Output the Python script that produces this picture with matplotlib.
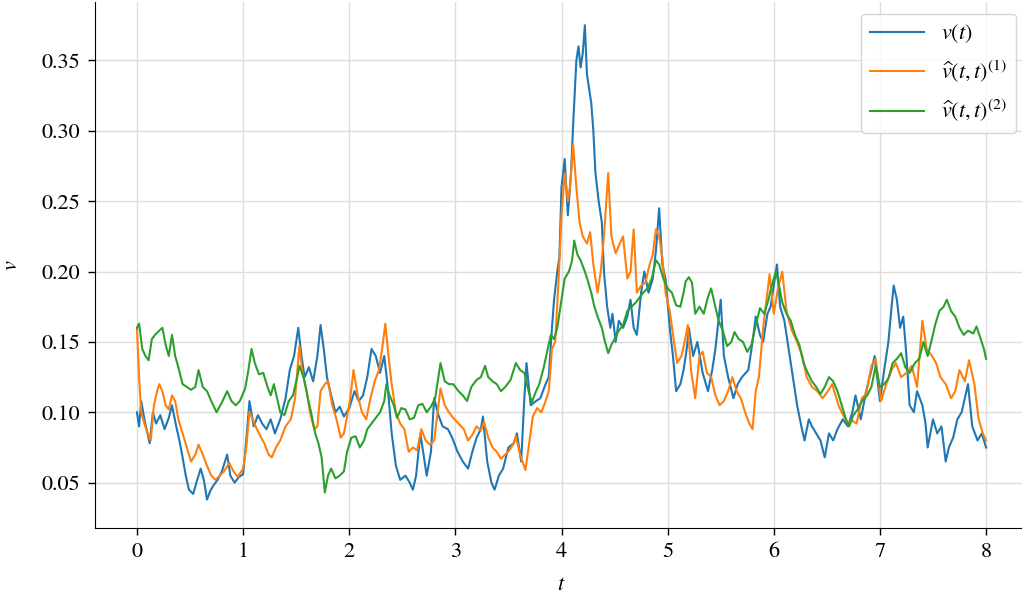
import numpy as np
import matplotlib
matplotlib.use('Agg')
import matplotlib.pyplot as plt

plt.rcParams['font.family'] = ['STIXGeneral', 'DejaVu Serif']
plt.rcParams['mathtext.fontset'] = 'stix'

# v(t)
t_v = [0.00, 0.02, 0.04, 0.07, 0.10, 0.12, 0.15, 0.18, 0.22, 0.26, 0.30, 0.33, 0.37, 0.40, 0.43, 0.46,
       0.49, 0.53, 0.56, 0.60, 0.63, 0.66, 0.69, 0.72, 0.76, 0.80, 0.85, 0.88, 0.92, 0.96, 1.00, 1.03,
       1.06, 1.10, 1.14, 1.18, 1.22, 1.26, 1.30, 1.35, 1.40, 1.44, 1.48, 1.52, 1.55, 1.58, 1.62, 1.66,
       1.70, 1.73, 1.76, 1.79, 1.83, 1.87, 1.91, 1.95, 2.00, 2.05, 2.09, 2.13, 2.17, 2.21, 2.25, 2.29,
       2.33, 2.36, 2.40, 2.44, 2.48, 2.53, 2.57, 2.60, 2.63, 2.67, 2.70, 2.73, 2.77, 2.80, 2.84, 2.88,
       2.93, 2.97, 3.02, 3.07, 3.12, 3.16, 3.20, 3.24, 3.26, 3.30, 3.34, 3.37, 3.41, 3.45, 3.50, 3.55,
       3.58, 3.62, 3.65, 3.67, 3.71, 3.76, 3.80, 3.85, 3.88, 3.91, 3.93, 3.96, 3.98, 4.00, 4.03, 4.06,
       4.09, 4.11, 4.14, 4.16, 4.18, 4.20, 4.22, 4.24, 4.26, 4.28, 4.30, 4.32, 4.35, 4.38, 4.40, 4.43,
       4.46, 4.48, 4.51, 4.54, 4.58, 4.62, 4.65, 4.68, 4.71, 4.75, 4.78, 4.82, 4.86, 4.89, 4.92, 4.95,
       4.98, 5.02, 5.05, 5.08, 5.12, 5.15, 5.18, 5.20, 5.24, 5.28, 5.33, 5.38, 5.42, 5.45, 5.50, 5.53,
       5.57, 5.62, 5.66, 5.70, 5.76, 5.80, 5.83, 5.87, 5.90, 5.94, 5.97, 6.03, 6.06, 6.10, 6.15, 6.19,
       6.22, 6.26, 6.29, 6.33, 6.36, 6.40, 6.44, 6.48, 6.52, 6.56, 6.60, 6.65, 6.70, 6.74, 6.77, 6.82,
       6.87, 6.92, 6.95, 7.00, 7.04, 7.08, 7.11, 7.13, 7.16, 7.19, 7.22, 7.25, 7.28, 7.32, 7.35, 7.40,
       7.43, 7.45, 7.50, 7.54, 7.58, 7.62, 7.65, 7.69, 7.73, 7.77, 7.80, 7.83, 7.87, 7.92, 7.96, 8.00]
v = [0.100, 0.090, 0.108, 0.095, 0.085, 0.078, 0.100, 0.092, 0.098, 0.088, 0.096, 0.105, 0.090, 0.080, 0.068, 0.055,
     0.045, 0.042, 0.050, 0.060, 0.052, 0.038, 0.044, 0.048, 0.052, 0.058, 0.070, 0.055, 0.050, 0.054, 0.056, 0.080,
     0.108, 0.090, 0.098, 0.092, 0.088, 0.095, 0.085, 0.095, 0.110, 0.130, 0.140, 0.160, 0.140, 0.125, 0.132, 0.122,
     0.140, 0.162, 0.145, 0.125, 0.112, 0.100, 0.104, 0.097, 0.103, 0.115, 0.108, 0.112, 0.125, 0.145, 0.140, 0.128,
     0.140, 0.120, 0.085, 0.062, 0.052, 0.055, 0.050, 0.045, 0.055, 0.085, 0.070, 0.055, 0.072, 0.110, 0.098, 0.090,
     0.088, 0.082, 0.072, 0.065, 0.060, 0.072, 0.082, 0.088, 0.097, 0.065, 0.050, 0.045, 0.055, 0.060, 0.075, 0.078,
     0.085, 0.065, 0.110, 0.135, 0.105, 0.108, 0.110, 0.120, 0.125, 0.160, 0.180, 0.200, 0.210, 0.260, 0.280, 0.240,
     0.270, 0.305, 0.350, 0.360, 0.345, 0.355, 0.375, 0.340, 0.330, 0.320, 0.300, 0.270, 0.250, 0.235, 0.200, 0.175,
     0.160, 0.170, 0.150, 0.165, 0.160, 0.168, 0.180, 0.160, 0.155, 0.185, 0.200, 0.185, 0.195, 0.215, 0.245, 0.205,
     0.195, 0.160, 0.140, 0.115, 0.120, 0.130, 0.145, 0.160, 0.140, 0.150, 0.128, 0.115, 0.130, 0.145, 0.180, 0.140,
     0.125, 0.110, 0.120, 0.125, 0.130, 0.150, 0.168, 0.155, 0.150, 0.170, 0.175, 0.205, 0.175, 0.165, 0.140, 0.120,
     0.105, 0.090, 0.080, 0.095, 0.090, 0.085, 0.080, 0.068, 0.085, 0.080, 0.088, 0.095, 0.090, 0.100, 0.112, 0.095,
     0.115, 0.130, 0.140, 0.108, 0.130, 0.150, 0.175, 0.190, 0.180, 0.160, 0.168, 0.140, 0.105, 0.100, 0.115, 0.105,
     0.092, 0.075, 0.095, 0.085, 0.090, 0.065, 0.075, 0.082, 0.095, 0.100, 0.110, 0.120, 0.090, 0.080, 0.085, 0.075]

# v_hat(t,t)^(1)
t_h1 = [0.00, 0.02, 0.04, 0.07, 0.10, 0.13, 0.16, 0.19, 0.21, 0.24, 0.27, 0.30, 0.33, 0.36, 0.39, 0.43,
        0.47, 0.51, 0.55, 0.58, 0.62, 0.66, 0.70, 0.74, 0.78, 0.82, 0.87, 0.91, 0.95, 1.00, 1.03, 1.06,
        1.09, 1.13, 1.17, 1.20, 1.24, 1.27, 1.31, 1.35, 1.40, 1.45, 1.49, 1.53, 1.56, 1.60, 1.63, 1.67,
        1.70, 1.73, 1.77, 1.80, 1.84, 1.88, 1.92, 1.95, 1.98, 2.01, 2.04, 2.08, 2.12, 2.16, 2.20, 2.24,
        2.28, 2.31, 2.34, 2.37, 2.40, 2.44, 2.48, 2.52, 2.56, 2.60, 2.64, 2.68, 2.72, 2.76, 2.80, 2.84,
        2.86, 2.90, 2.94, 2.98, 3.03, 3.08, 3.12, 3.16, 3.20, 3.24, 3.27, 3.31, 3.35, 3.39, 3.43, 3.47,
        3.51, 3.55, 3.57, 3.61, 3.66, 3.69, 3.73, 3.77, 3.81, 3.85, 3.88, 3.91, 3.94, 3.97, 4.00, 4.03,
        4.06, 4.08, 4.11, 4.14, 4.17, 4.20, 4.24, 4.27, 4.30, 4.34, 4.37, 4.40, 4.44, 4.47, 4.51, 4.55,
        4.58, 4.62, 4.65, 4.68, 4.71, 4.75, 4.79, 4.83, 4.86, 4.89, 4.92, 4.95, 4.98, 5.02, 5.06, 5.09,
        5.13, 5.16, 5.19, 5.22, 5.26, 5.30, 5.33, 5.37, 5.41, 5.45, 5.49, 5.53, 5.57, 5.61, 5.65, 5.69,
        5.73, 5.77, 5.80, 5.83, 5.86, 5.90, 5.94, 5.96, 6.00, 6.04, 6.08, 6.12, 6.17, 6.22, 6.27, 6.31,
        6.36, 6.41, 6.46, 6.51, 6.55, 6.61, 6.64, 6.69, 6.74, 6.78, 6.83, 6.87, 6.92, 6.96, 7.01, 7.06,
        7.11, 7.15, 7.20, 7.25, 7.30, 7.35, 7.40, 7.44, 7.49, 7.53, 7.57, 7.62, 7.67, 7.71, 7.75, 7.80,
        7.84, 7.89, 7.93, 7.97, 8.00]
h1 = [0.160, 0.125, 0.100, 0.092, 0.085, 0.080, 0.105, 0.115, 0.120, 0.115, 0.105, 0.102, 0.112, 0.108, 0.095, 0.085,
      0.075, 0.065, 0.070, 0.077, 0.070, 0.062, 0.055, 0.052, 0.055, 0.058, 0.064, 0.058, 0.054, 0.060, 0.075, 0.100,
      0.095, 0.088, 0.082, 0.078, 0.070, 0.068, 0.075, 0.080, 0.090, 0.095, 0.110, 0.147, 0.128, 0.115, 0.100, 0.088,
      0.090, 0.115, 0.120, 0.122, 0.105, 0.095, 0.082, 0.085, 0.097, 0.110, 0.130, 0.112, 0.100, 0.095, 0.110, 0.122,
      0.130, 0.145, 0.163, 0.140, 0.120, 0.100, 0.092, 0.088, 0.072, 0.075, 0.073, 0.088, 0.080, 0.077, 0.080, 0.105,
      0.117, 0.105, 0.100, 0.096, 0.092, 0.088, 0.080, 0.084, 0.090, 0.087, 0.093, 0.082, 0.075, 0.072, 0.067, 0.070,
      0.073, 0.078, 0.083, 0.070, 0.059, 0.075, 0.097, 0.103, 0.100, 0.108, 0.115, 0.145, 0.150, 0.190, 0.240, 0.270,
      0.250, 0.260, 0.290, 0.260, 0.235, 0.225, 0.220, 0.228, 0.205, 0.185, 0.200, 0.225, 0.270, 0.225, 0.213, 0.220,
      0.225, 0.195, 0.200, 0.230, 0.185, 0.190, 0.192, 0.205, 0.212, 0.230, 0.225, 0.210, 0.185, 0.172, 0.150, 0.135,
      0.140, 0.150, 0.162, 0.130, 0.110, 0.140, 0.143, 0.128, 0.125, 0.112, 0.105, 0.108, 0.115, 0.125, 0.115, 0.110,
      0.100, 0.092, 0.088, 0.115, 0.125, 0.160, 0.185, 0.198, 0.170, 0.188, 0.200, 0.172, 0.158, 0.150, 0.140, 0.125,
      0.118, 0.115, 0.110, 0.115, 0.120, 0.105, 0.100, 0.093, 0.094, 0.092, 0.110, 0.113, 0.133, 0.138, 0.108, 0.120,
      0.130, 0.135, 0.125, 0.128, 0.133, 0.118, 0.165, 0.145, 0.140, 0.135, 0.125, 0.120, 0.110, 0.115, 0.130, 0.122,
      0.137, 0.120, 0.095, 0.085, 0.080]

# v_hat(t,t)^(2)
t_h2 = [0.00, 0.02, 0.05, 0.08, 0.11, 0.14, 0.17, 0.21, 0.24, 0.27, 0.30, 0.33, 0.36, 0.39, 0.43, 0.47,
        0.51, 0.55, 0.58, 0.62, 0.66, 0.70, 0.75, 0.80, 0.85, 0.89, 0.93, 0.97, 1.02, 1.05, 1.08, 1.11,
        1.15, 1.19, 1.23, 1.26, 1.29, 1.32, 1.35, 1.39, 1.43, 1.47, 1.51, 1.53, 1.57, 1.61, 1.64, 1.68,
        1.71, 1.74, 1.77, 1.80, 1.83, 1.87, 1.91, 1.95, 1.98, 2.02, 2.06, 2.10, 2.14, 2.17, 2.21, 2.25,
        2.29, 2.33, 2.35, 2.38, 2.42, 2.45, 2.49, 2.53, 2.57, 2.61, 2.65, 2.69, 2.73, 2.77, 2.81, 2.86,
        2.90, 2.94, 2.98, 3.03, 3.07, 3.11, 3.15, 3.20, 3.24, 3.28, 3.31, 3.35, 3.39, 3.43, 3.47, 3.52,
        3.57, 3.61, 3.65, 3.69, 3.72, 3.76, 3.79, 3.83, 3.87, 3.90, 3.93, 3.96, 4.00, 4.03, 4.07, 4.10,
        4.12, 4.15, 4.18, 4.22, 4.25, 4.28, 4.31, 4.34, 4.38, 4.41, 4.44, 4.47, 4.50, 4.54, 4.58, 4.62,
        4.66, 4.70, 4.74, 4.77, 4.81, 4.85, 4.89, 4.92, 4.96, 5.00, 5.04, 5.08, 5.12, 5.15, 5.17, 5.20,
        5.23, 5.26, 5.30, 5.34, 5.38, 5.41, 5.45, 5.48, 5.52, 5.56, 5.60, 5.63, 5.67, 5.71, 5.75, 5.79,
        5.83, 5.87, 5.91, 5.95, 5.98, 6.02, 6.05, 6.08, 6.12, 6.16, 6.20, 6.24, 6.28, 6.32, 6.36, 6.40,
        6.44, 6.48, 6.52, 6.56, 6.60, 6.64, 6.68, 6.71, 6.75, 6.79, 6.83, 6.88, 6.92, 6.96, 7.00, 7.04,
        7.08, 7.12, 7.16, 7.20, 7.24, 7.28, 7.33, 7.37, 7.41, 7.45, 7.49, 7.52, 7.56, 7.60, 7.63, 7.67,
        7.71, 7.75, 7.79, 7.83, 7.88, 7.91, 7.95, 7.98, 8.00]
h2 = [0.160, 0.163, 0.145, 0.140, 0.137, 0.152, 0.155, 0.158, 0.160, 0.148, 0.140, 0.155, 0.140, 0.132, 0.120, 0.118,
      0.116, 0.118, 0.130, 0.118, 0.115, 0.108, 0.100, 0.107, 0.115, 0.108, 0.105, 0.108, 0.117, 0.130, 0.145, 0.135,
      0.127, 0.128, 0.118, 0.112, 0.120, 0.110, 0.100, 0.098, 0.108, 0.112, 0.125, 0.133, 0.125, 0.110, 0.100, 0.085,
      0.078, 0.068, 0.043, 0.055, 0.060, 0.053, 0.055, 0.058, 0.072, 0.082, 0.083, 0.075, 0.080, 0.088, 0.092, 0.096,
      0.100, 0.108, 0.120, 0.112, 0.105, 0.096, 0.103, 0.102, 0.095, 0.096, 0.105, 0.106, 0.100, 0.104, 0.110, 0.135,
      0.122, 0.120, 0.120, 0.115, 0.112, 0.108, 0.118, 0.123, 0.125, 0.133, 0.125, 0.122, 0.120, 0.115, 0.118, 0.123,
      0.135, 0.130, 0.128, 0.115, 0.107, 0.115, 0.120, 0.131, 0.145, 0.155, 0.152, 0.160, 0.180, 0.195, 0.200, 0.208,
      0.222, 0.212, 0.208, 0.200, 0.193, 0.185, 0.175, 0.168, 0.160, 0.150, 0.142, 0.148, 0.152, 0.158, 0.162, 0.172,
      0.175, 0.178, 0.182, 0.185, 0.188, 0.195, 0.208, 0.205, 0.195, 0.188, 0.185, 0.176, 0.175, 0.185, 0.193, 0.196,
      0.192, 0.170, 0.175, 0.170, 0.182, 0.188, 0.175, 0.165, 0.158, 0.147, 0.150, 0.157, 0.152, 0.150, 0.143, 0.148,
      0.162, 0.174, 0.170, 0.180, 0.190, 0.200, 0.190, 0.178, 0.170, 0.165, 0.155, 0.148, 0.135, 0.128, 0.122, 0.118,
      0.113, 0.118, 0.125, 0.122, 0.115, 0.105, 0.095, 0.090, 0.098, 0.102, 0.108, 0.112, 0.118, 0.133, 0.118, 0.120,
      0.124, 0.135, 0.138, 0.142, 0.132, 0.128, 0.135, 0.138, 0.150, 0.140, 0.152, 0.162, 0.172, 0.175, 0.180, 0.172,
      0.168, 0.160, 0.155, 0.158, 0.156, 0.161, 0.152, 0.145, 0.138]

fig = plt.figure(figsize=(10.22, 5.99), dpi=100)
ax = fig.add_axes([94.5 / 1022, 71 / 599, 934 / 1022, 526 / 599])

ax.plot(t_v, v, color='#1f77b4', lw=1.5, label=r'$v(t)$')
ax.plot(t_h1, h1, color='#ff7f0e', lw=1.5, label=r'$\widehat{v}(t,t)^{(1)}$')
ax.plot(t_h2, h2, color='#2ca02c', lw=1.5, label=r'$\widehat{v}(t,t)^{(2)}$')

ax.set_xlim(-0.4, 8.4)
ax.set_ylim(0.0178, 0.3915)
ax.set_xticks(range(9))
ax.set_yticks([0.05, 0.10, 0.15, 0.20, 0.25, 0.30, 0.35])
ax.set_yticklabels(['0.05', '0.10', '0.15', '0.20', '0.25', '0.30', '0.35'])
ax.tick_params(labelsize=16, length=5, width=1, pad=5)
ax.grid(True, color='#dddddd', lw=1)
ax.set_axisbelow(True)
ax.spines['top'].set_visible(False)
ax.spines['right'].set_visible(False)
ax.set_xlabel(r'$t$', fontsize=16, labelpad=10)
ax.set_ylabel(r'$v$', fontsize=16, labelpad=14)

ax.legend(loc='upper right', bbox_to_anchor=(0.9866, 0.978), borderaxespad=0,
          fontsize=16, handlelength=2.4, labelspacing=0.6, framealpha=0.8, edgecolor='#cccccc')

fig.savefig('out.png', dpi=100)
